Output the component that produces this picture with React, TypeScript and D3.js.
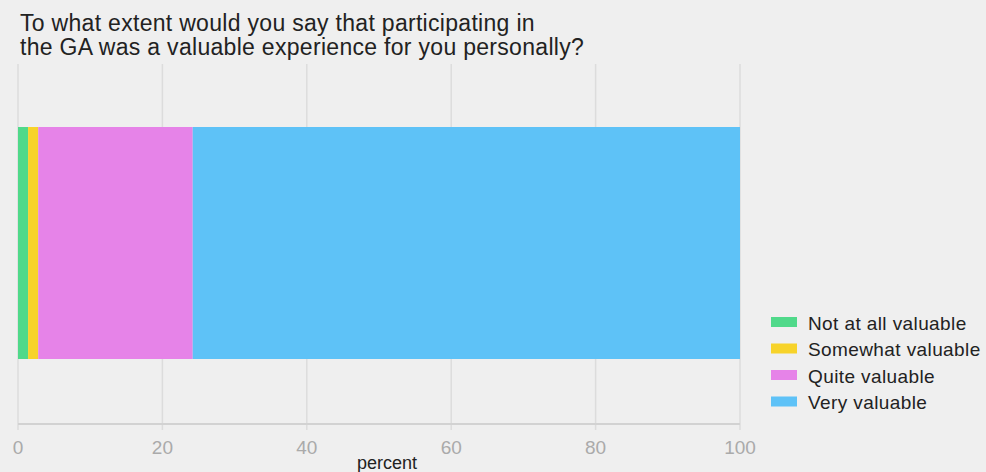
import React from "react";
import * as d3 from "d3";

const categories = ["Not at all valuable", "Somewhat valuable", "Quite valuable", "Very valuable"];
const values = [1.4, 1.4, 21.4, 75.8];
const colors = ["#50d98a", "#f7d32a", "#e683e8", "#5ec2f7"];
const ticks = [0, 20, 40, 60, 80, 100];
const titleLines = ["To what extent would you say that participating in", "the GA was a valuable experience for you personally?"];

export default function App() {
  const W = 986, H = 472;
  const x = d3.scaleLinear().domain([0, 100]).range([18, 740]);
  const barTop = 127, barBottom = 359;
  const gridTop = 64, axisY = 424;
  let cum = 0;
  const segs = values.map((v, i) => {
    const s = { x0: cum, x1: cum + v, color: colors[i] };
    cum += v;
    return s;
  });
  const font = "'Liberation Sans', Arial, sans-serif";
  return (
    <svg width={W} height={H} style={{ position: "absolute", left: 0, top: 0, background: "#efefef" }} fontFamily={font}>
      <rect x={0} y={0} width={W} height={H} fill="#efefef" />
      {titleLines.map((t, i) => (
        <text key={i} x={20} y={31 + i * 23.5} fontSize={23} letterSpacing={0.3} fill="#222">{t}</text>
      ))}
      {ticks.map((t) => (
        <line key={t} x1={x(t)} x2={x(t)} y1={gridTop} y2={axisY + 6} stroke="#dcdcdc" strokeWidth={1.5} />
      ))}
      <line x1={x(0)} x2={x(100)} y1={axisY} y2={axisY} stroke="#d2d2d2" strokeWidth={2} />
      {segs.map((s, i) => (
        <rect key={i} x={x(s.x0)} y={barTop} width={x(s.x1) - x(s.x0)} height={barBottom - barTop} fill={s.color} />
      ))}
      {ticks.map((t) => (
        <text key={"l" + t} x={x(t)} y={454} fontSize={19} fill="#aaa" textAnchor="middle">{t}</text>
      ))}
      <text x={387} y={469} fontSize={18} fill="#222" textAnchor="middle">percent</text>
      {categories.map((c, i) => (
        <g key={c} transform={`translate(771, ${317 + i * 26.5})`}>
          <rect x={0} y={0} width={26} height={10} fill={colors[i]} />
          <text x={37} y={12.5} fontSize={19} letterSpacing={0.4} fill="#222">{c}</text>
        </g>
      ))}
    </svg>
  );
}
